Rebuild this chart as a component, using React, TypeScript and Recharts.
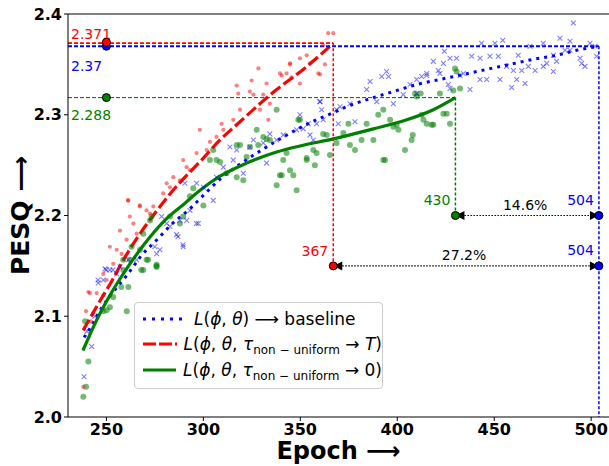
import React from 'react';
import { ComposedChart, Line, Scatter, XAxis, YAxis, ReferenceLine, ReferenceDot } from 'recharts';

const RED = '#ff0000';
const BLUE = '#0000ff';
const GREEN = '#008000';
const FONT = '"DejaVu Sans", sans-serif';

const epochTicks = [250, 300, 350, 400, 450, 500];
const pesqTicks = [2.0, 2.1, 2.2, 2.3, 2.4];

// fitted curves (epoch, pesq)
const baselineFit: [number, number][] = [
  [238.5, 2.079], [242.2, 2.090], [247.4, 2.108], [254.3, 2.126], [261.1, 2.142], [268, 2.160],
  [276.6, 2.177], [283.5, 2.191], [293.8, 2.208], [300, 2.220], [308.6, 2.236], [318.9, 2.251],
  [329.2, 2.264], [339.5, 2.276], [349.8, 2.287], [358.4, 2.295], [367, 2.302], [373.9, 2.308],
  [386, 2.316], [398, 2.323], [410, 2.330], [422, 2.335], [434.1, 2.340], [446.1, 2.345],
  [458.1, 2.350], [470.2, 2.355], [482.2, 2.359], [492.5, 2.364], [504, 2.368],
];
const nonUniformTFit: [number, number][] = [
  [238, 2.086], [245.7, 2.112], [252.5, 2.134], [259.4, 2.158], [266.3, 2.179], [274.9, 2.202],
  [283.5, 2.223], [300, 2.257], [308.6, 2.275], [318.9, 2.293], [329.2, 2.311], [337.8, 2.325],
  [351.5, 2.345], [367, 2.371],
];
const nonUniform0Fit: [number, number][] = [
  [237.9, 2.066], [245.7, 2.099], [252.5, 2.123], [261.1, 2.149], [269.7, 2.172], [280, 2.195],
  [290.4, 2.212], [298.3, 2.225], [308.6, 2.239], [322.3, 2.252], [337.8, 2.263], [349.8, 2.269],
  [367, 2.276], [375.6, 2.280], [387.7, 2.286], [404.9, 2.295], [418.6, 2.305], [430, 2.317],
];

// raw per-epoch points
const baselinePts: [number, number][] = [
  [238.5, 2.040], [240, 2.085], [242.4, 2.070], [244, 2.100], [245.7, 2.136], [249.9, 2.146], [253.4, 2.146],
  [249.3, 2.147], [251.8, 2.146], [248.4, 2.136], [245.8, 2.133], [257, 2.149], [255.3, 2.142], [261.3, 2.156],
  [265.6, 2.156], [275.9, 2.162], [277.6, 2.166], [275, 2.169], [278.5, 2.199], [281.1, 2.192], [282.8, 2.189],
  [286.2, 2.181], [289.6, 2.169], [287.9, 2.195], [291.4, 2.195], [297.4, 2.192], [293.1, 2.205], [290.5, 2.232],
  [296.5, 2.232], [300, 2.228], [305.1, 2.215], [306.8, 2.238], [310.3, 2.248], [313.7, 2.268], [315.4, 2.255],
  [317.2, 2.265], [320.6, 2.242], [324, 2.268], [325.8, 2.275], [330.9, 2.272], [334.3, 2.281], [332.6, 2.252],
  [337.8, 2.275], [341.2, 2.280], [348.1, 2.285], [351.5, 2.286], [355, 2.280], [358.4, 2.291], [361.8, 2.295],
  [360.1, 2.313], [361, 2.305], [368.7, 2.305], [369.6, 2.291], [289.5, 2.171], [286.9, 2.179], [296.4, 2.192],
  [349.8, 2.300], [360.2, 2.313], [370.5, 2.308], [375.6, 2.311], [378.2, 2.293], [384.2, 2.325], [386, 2.333],
  [389.4, 2.313], [392, 2.338], [395.5, 2.338], [394.5, 2.343], [398, 2.311], [403.1, 2.320], [406.6, 2.330],
  [410, 2.321], [412.6, 2.338], [415.2, 2.341], [418.6, 2.353], [422, 2.341], [426.3, 2.330], [434.1, 2.341],
  [356.7, 2.275], [354.1, 2.291], [490.8, 2.391], [483.9, 2.376], [489.1, 2.373], [443.5, 2.371], [450.4, 2.371],
  [454.4, 2.374], [468.5, 2.368], [475.3, 2.371], [480.5, 2.359], [486.5, 2.364], [499.4, 2.371], [502, 2.368],
  [424.3, 2.363], [427.2, 2.356], [430.6, 2.356], [423.8, 2.351], [438.4, 2.358], [442.7, 2.356], [447.8, 2.358],
  [452.1, 2.358], [442.7, 2.335], [446.1, 2.335], [453, 2.335], [459, 2.327], [461.6, 2.335], [465.9, 2.331],
  [456.4, 2.348], [459.9, 2.344], [464.2, 2.344], [467.6, 2.348], [471.1, 2.344], [477.1, 2.351], [480.5, 2.343],
  [482.2, 2.353], [494.3, 2.356], [496.8, 2.348], [495.1, 2.351], [502.8, 2.358], [475.3, 2.348], [462.4, 2.359],
  [437.5, 2.325], [432.4, 2.339], [427.2, 2.326], [421.2, 2.344], [415.2, 2.339], [410, 2.335], [489.1, 2.364],
];
const nonUniformTPts: [number, number][] = [
  [364.4, 2.381], [367, 2.381], [361.8, 2.369], [353.3, 2.359], [355, 2.351], [359.3, 2.341], [349.8, 2.356],
  [344.7, 2.351], [339.5, 2.341], [342.9, 2.341], [345.5, 2.337], [349.8, 2.331], [332.6, 2.331], [334.3, 2.311],
  [330.9, 2.320], [329.2, 2.305], [325.8, 2.320], [324, 2.323], [317.2, 2.329], [324.9, 2.334], [318.9, 2.305],
  [315.4, 2.295], [309.4, 2.291], [310.3, 2.285], [298.2, 2.285], [303.4, 2.273], [301.7, 2.265], [296.5, 2.262],
  [289.6, 2.255], [291.4, 2.248], [287.9, 2.235], [282.8, 2.228], [284.5, 2.238], [281.1, 2.232], [279.3, 2.222],
  [272.5, 2.202], [270.7, 2.205], [267.3, 2.209], [261.3, 2.215], [265.6, 2.182], [262.1, 2.199], [257, 2.185],
  [257.8, 2.162], [255.3, 2.166], [251.8, 2.169], [253.5, 2.152], [250.1, 2.136], [248.4, 2.142], [245, 2.123],
  [248.4, 2.121], [243.2, 2.103], [241.5, 2.123], [260.4, 2.176], [263.9, 2.192], [274.2, 2.209], [293.1, 2.245],
  [306.8, 2.278], [318, 2.321], [328.4, 2.346], [340.4, 2.339], [344.7, 2.350], [333.5, 2.295], [360.2, 2.340],
  [362.7, 2.350], [238.1, 2.030], [240.7, 2.124], [239.5, 2.105], [242, 2.095], [261.1, 2.215], [267.2, 2.210],
];
const nonUniform0Pts: [number, number][] = [
  [238.1, 2.020], [239.5, 2.030], [240.7, 2.055], [239, 2.095], [248.4, 2.105], [260.5, 2.105], [257.7, 2.129],
  [258.7, 2.146], [269, 2.146], [275.9, 2.151], [273.3, 2.199], [272.5, 2.195], [269, 2.182], [267.3, 2.166],
  [270.7, 2.156], [275.9, 2.149], [263, 2.169], [261.3, 2.129], [262.1, 2.156], [258.7, 2.156], [251.8, 2.109],
  [253.5, 2.119], [250.1, 2.106], [282.8, 2.199], [287.9, 2.192], [289.6, 2.199], [293.1, 2.219], [294.8, 2.227],
  [300, 2.210], [303.4, 2.255], [306.8, 2.255], [305.1, 2.265], [312, 2.242], [317.2, 2.238], [320.6, 2.235],
  [318.9, 2.270], [322.3, 2.258], [327.5, 2.285], [330.9, 2.278], [332.6, 2.276], [334.3, 2.275], [337.8, 2.305],
  [339.5, 2.240], [341.2, 2.255], [344.7, 2.245], [346.4, 2.240], [348.1, 2.225], [342.9, 2.262], [349.8, 2.295],
  [353.3, 2.257], [356.7, 2.265], [358.4, 2.262], [363.6, 2.280], [365.3, 2.260], [368.7, 2.272], [361.8, 2.281],
  [357.5, 2.250], [328.3, 2.270], [337.8, 2.230], [324, 2.268], [317.2, 2.270], [308.6, 2.253], [349, 2.295],
  [353.3, 2.255], [340.4, 2.240], [372.2, 2.282], [374.8, 2.291], [378.2, 2.265], [375.6, 2.270], [381.6, 2.275],
  [384.2, 2.291], [387.7, 2.275], [392.8, 2.305], [392.8, 2.255], [396.3, 2.295], [398, 2.288], [400.6, 2.285],
  [404, 2.265], [407.4, 2.275], [408, 2.280], [410, 2.318], [412.6, 2.300], [413.5, 2.295], [415.2, 2.291],
  [417.7, 2.290], [423.8, 2.301], [425.5, 2.301], [427.2, 2.291], [422, 2.321], [428.9, 2.324], [432.4, 2.326],
  [430.6, 2.343], [412.1, 2.321], [393.7, 2.255], [429.8, 2.346], [409.2, 2.321], [390.2, 2.300], [399.7, 2.290],
  [418.6, 2.290], [271.5, 2.156], [275.8, 2.150], [268, 2.146],
];

const pts = (arr: [number, number][]) => arr.map(([x, y]) => ({ x, y }));

const RedDot = (p: any) => <circle cx={p.cx} cy={p.cy} r={2.1} fill={RED} fillOpacity={0.5} />;
const GreenDot = (p: any) => <circle cx={p.cx} cy={p.cy} r={3} fill={GREEN} fillOpacity={0.55} />;
const BlueX = (p: any) => {
  const s = 2.4;
  return (
    <path
      d={`M${p.cx - s},${p.cy - s}L${p.cx + s},${p.cy + s}M${p.cx - s},${p.cy + s}L${p.cx + s},${p.cy - s}`}
      stroke={BLUE}
      strokeOpacity={0.5}
      strokeWidth={1.1}
    />
  );
};

// guide line with its own text
const guide = (color: string, width: number, dash: string, label?: string, dx = 0, dy = 0, anchor = 'start', labelColor?: string) =>
  (p: any) => (
    <g>
      <line x1={p.x1} y1={p.y1} x2={p.x2} y2={p.y2} stroke={color} strokeWidth={width} strokeDasharray={dash} />
      {label && (
        <text x={(anchor === 'start' ? p.x1 : p.x2) + dx} y={(anchor === 'start' ? p.y1 : p.y2) + dy}
          textAnchor={anchor} fontSize={14} fill={labelColor || color} fontFamily={FONT}>{label}</text>
      )}
    </g>
  );

const arrow = (label: string) => (p: any) => {
  const h = 9, w = 4.5;
  const { x1, y1, x2, y2 } = p;
  return (
    <g>
      <line x1={x1 + h} y1={y1} x2={x2 - h} y2={y2} stroke="#000" strokeWidth={1.2} strokeDasharray="1.5 1.5" />
      <polygon points={`${x1},${y1} ${x1 + h},${y1 - w} ${x1 + h},${y1 + w}`} fill="#000" />
      <polygon points={`${x2},${y2} ${x2 - h},${y2 - w} ${x2 - h},${y2 + w}`} fill="#000" />
      <text x={(x1 + x2) / 2 - 2} y={y1 - 6} textAnchor="middle" fontSize={14} fill="#000" fontFamily={FONT}>{label}</text>
      <text x={x2 - 5} y={y2 - 11} textAnchor="end" fontSize={14} fill={BLUE} fontFamily={FONT}>504</text>
    </g>
  );
};

const LegendRow = ({ sample, children }: { sample: React.ReactNode; children: React.ReactNode }) => (
  <div style={{ display: 'flex', alignItems: 'center', height: 25.5 }}>
    <svg width={46} height={10} style={{ marginLeft: 6, marginRight: 7 }}>{sample}</svg>
    <span style={{ whiteSpace: 'nowrap' }}>{children}</span>
  </div>
);

const Sub = () => (
  <span style={{ fontSize: 12, fontStyle: 'normal', position: 'relative', top: 4 }}>non − uniform</span>
);

export default function App() {
  return (
    <div style={{ position: 'absolute', left: 0, top: 0, width: 609, height: 466, background: '#fff', fontFamily: FONT }}>
      <ComposedChart width={609} height={466} margin={{ top: 14, right: 0, bottom: 0, left: 0 }}>
        <XAxis
          dataKey="x"
          type="number"
          domain={[230.2, 509.2]}
          ticks={epochTicks}
          allowDataOverflow
          height={49}
          tickSize={4}
          tickMargin={3}
          stroke="#000"
          tick={{ fill: '#000', fontSize: 16, fontWeight: 'bold', fontFamily: FONT }}
          label={{ value: 'Epoch ⟶', position: 'insideBottom', offset: 7, fill: '#000', fontSize: 24, fontWeight: 'bold', fontFamily: FONT }}
        />
        <YAxis
          dataKey="y"
          type="number"
          domain={[2.0, 2.4]}
          ticks={pesqTicks}
          allowDataOverflow
          width={68}
          tickSize={4}
          tickMargin={2}
          stroke="#000"
          tickFormatter={(v: number) => v.toFixed(1)}
          tick={{ fill: '#000', fontSize: 16, fontWeight: 'bold', fontFamily: FONT }}
          label={{ value: 'PESQ ⟶', angle: -90, position: 'insideLeft', offset: 20, fill: '#000', fontSize: 25, fontWeight: 'bold', fontFamily: FONT, style: { textAnchor: 'middle' } }}
        />
        <ReferenceLine y={2.4} stroke="#000" strokeWidth={1.2} />

        <Scatter data={pts(nonUniform0Pts)} dataKey="y" shape={GreenDot} isAnimationActive={false} />
        <Scatter data={pts(nonUniformTPts)} dataKey="y" shape={RedDot} isAnimationActive={false} />
        <Scatter data={pts(baselinePts)} dataKey="y" shape={BlueX} isAnimationActive={false} />

        <Line data={pts(baselineFit)} dataKey="y" type="monotone" stroke={BLUE} strokeWidth={3} strokeDasharray="3 5" dot={false} isAnimationActive={false} />
        <Line data={pts(nonUniformTFit)} dataKey="y" type="monotone" stroke={RED} strokeWidth={3.2} strokeDasharray="12 4" dot={false} isAnimationActive={false} />
        <Line data={pts(nonUniform0Fit)} dataKey="y" type="monotone" stroke={GREEN} strokeWidth={3.2} dot={false} isAnimationActive={false} />

        <ReferenceLine segment={[{ x: 230.2, y: 2.317 }, { x: 430, y: 2.317 }]} shape={guide('#006400', 1, '4 2', '2.288', 3, 22, 'start', GREEN)} />
        <ReferenceLine segment={[{ x: 230.2, y: 2.368 }, { x: 504, y: 2.368 }]} shape={guide(BLUE, 1.8, '4 2', '2.37', 3, 25)} />
        <ReferenceLine segment={[{ x: 230.2, y: 2.371 }, { x: 367, y: 2.371 }]} shape={guide(RED, 1.8, '4 2', '2.371', 3, -4)} />
        <ReferenceLine segment={[{ x: 367, y: 2.371 }, { x: 367, y: 2.15 }]} shape={guide(RED, 1.5, '3 2', '367', -5, -10, 'end')} />
        <ReferenceLine segment={[{ x: 430, y: 2.317 }, { x: 430, y: 2.2 }]} shape={guide(GREEN, 1.5, '3 2', '430', -5, -11, 'end')} />
        <ReferenceLine segment={[{ x: 504, y: 2.368 }, { x: 504, y: 2.0 }]} shape={guide(BLUE, 1.5, '3 2')} />
        <ReferenceLine segment={[{ x: 430, y: 2.2 }, { x: 504, y: 2.2 }]} shape={arrow('14.6%')} />
        <ReferenceLine segment={[{ x: 367, y: 2.15 }, { x: 504, y: 2.15 }]} shape={arrow('27.2%')} />

        <ReferenceDot x={250} y={2.368} r={4} fill={BLUE} stroke="#000" strokeWidth={1} />
        <ReferenceDot x={250} y={2.372} r={4} fill={RED} stroke="#000" strokeWidth={1} />
        <ReferenceDot x={250} y={2.317} r={4} fill={GREEN} stroke="#000" strokeWidth={1} />
        <ReferenceDot x={430} y={2.2} r={4} fill={GREEN} stroke="#000" strokeWidth={1} />
        <ReferenceDot x={504} y={2.2} r={4} fill={BLUE} stroke="#000" strokeWidth={1} />
        <ReferenceDot x={367} y={2.15} r={4} fill={RED} stroke="#000" strokeWidth={1} />
        <ReferenceDot x={504} y={2.15} r={4} fill={BLUE} stroke="#000" strokeWidth={1} />
      </ComposedChart>

      <div
        style={{
          position: 'absolute', left: 134, top: 302, width: 247, height: 82, border: '1px solid #ccc',
          borderRadius: 4, background: 'rgba(255,255,255,0.85)', fontSize: 17, color: '#000', paddingTop: 3,
        }}
      >
        <LegendRow sample={<line x1={2} y1={5} x2={44} y2={5} stroke={BLUE} strokeWidth={3} strokeDasharray="3 6" />}>
          <i>L</i>(<i>ϕ</i>, <i>θ</i>) ⟶ baseline
        </LegendRow>
        <LegendRow sample={<line x1={2} y1={5} x2={44} y2={5} stroke={RED} strokeWidth={3} strokeDasharray="13 3" />}>
          <i>L</i>(<i>ϕ</i>, <i>θ</i>, <i>τ</i><Sub /> → <i>T</i>)
        </LegendRow>
        <LegendRow sample={<line x1={2} y1={5} x2={44} y2={5} stroke={GREEN} strokeWidth={3} />}>
          <i>L</i>(<i>ϕ</i>, <i>θ</i>, <i>τ</i><Sub /> → 0)
        </LegendRow>
      </div>
    </div>
  );
}
